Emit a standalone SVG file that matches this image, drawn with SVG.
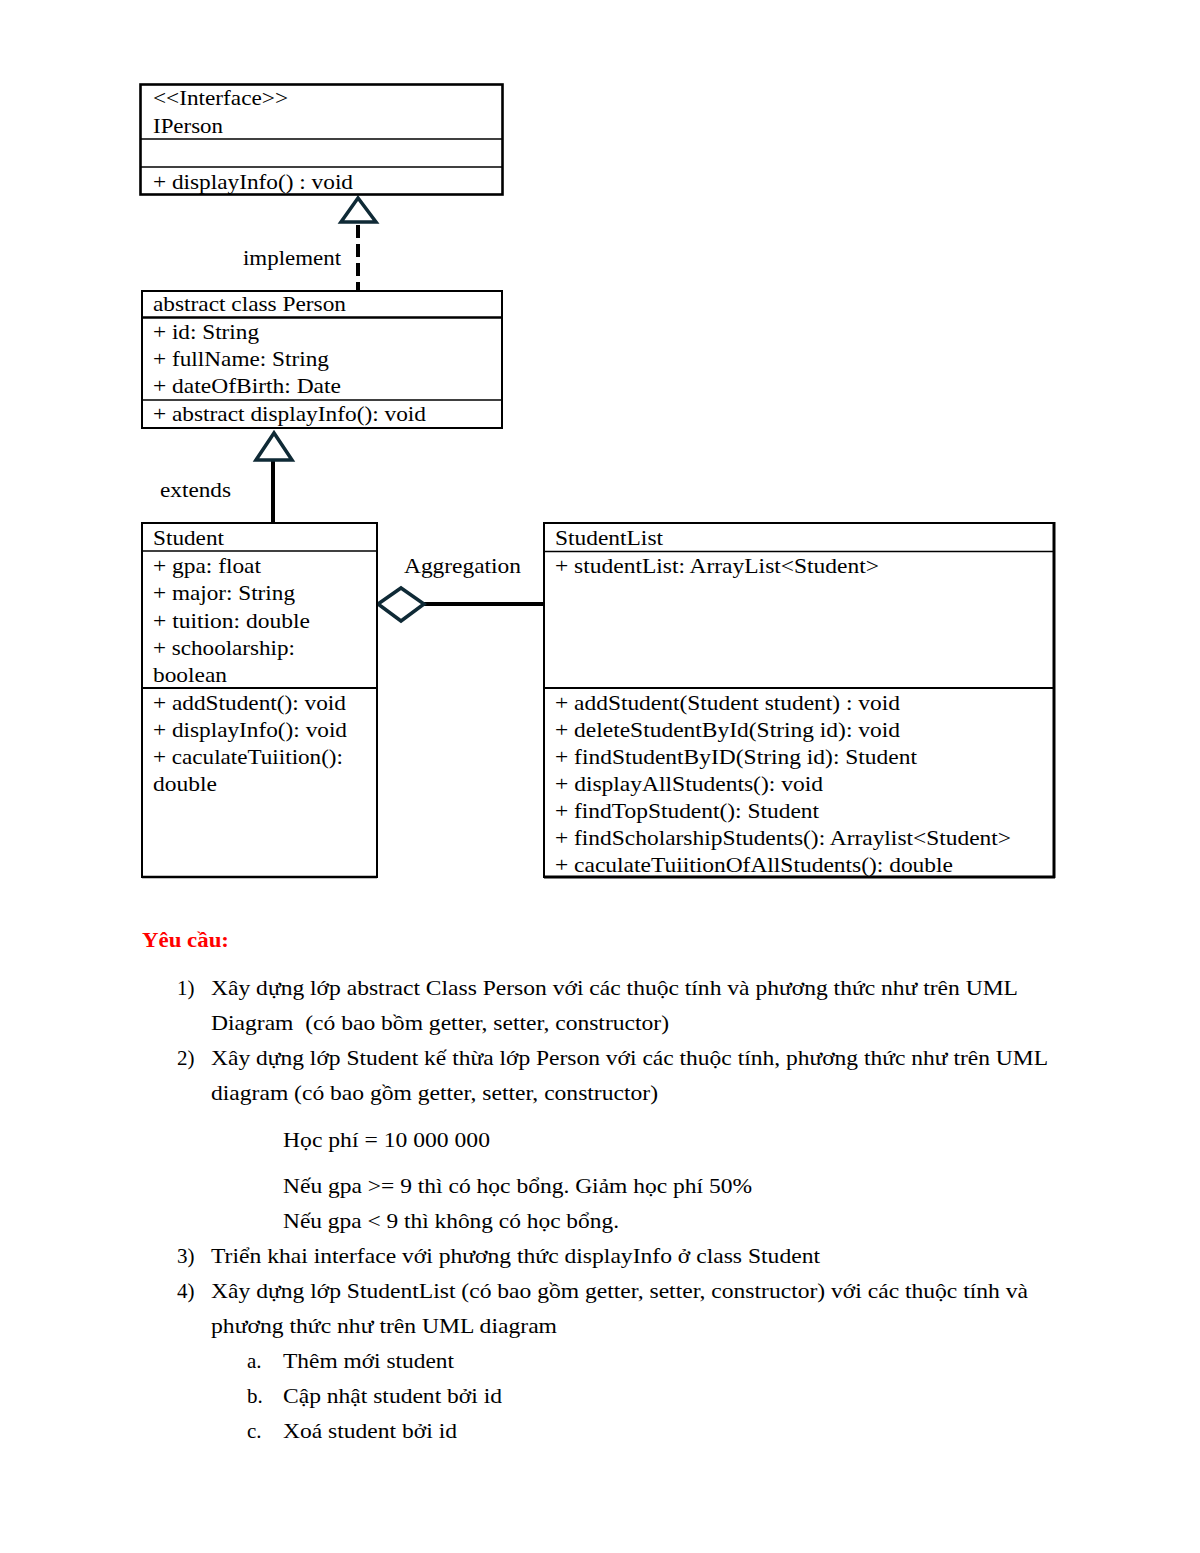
<svg xmlns="http://www.w3.org/2000/svg" width="1200" height="1553" viewBox="0 0 1200 1553">
<style>
.box{fill:#fff;stroke:#000;stroke-width:2}
.sep{stroke:#000;stroke-width:1.6}
.t{font-family:"Liberation Serif","Times New Roman",serif;font-size:22px;fill:#000}
.r{font-family:"Liberation Serif","Times New Roman",serif;font-size:21px;fill:#000}
.head{stroke:#0f2a36;stroke-width:3.5;fill:#fff;stroke-linejoin:miter}
.ln{stroke:#000;stroke-width:4;fill:none}
</style>
<rect width="1200" height="1553" fill="#fff"/>

<g id="connectors">
<line class="ln" x1="358" y1="225" x2="358" y2="290" stroke-dasharray="13 6"/>
<polygon class="head" points="358,198 341,222 376,222"/>
<line class="ln" x1="273" y1="460" x2="273" y2="523"/>
<polygon class="head" points="274,433 256,460 292,460"/>
<line class="ln" x1="423" y1="604" x2="544" y2="604"/>
<polygon class="head" points="378,604 401,588 424,604 401,621"/>
<text class="t" x="243" y="265" textLength="98" lengthAdjust="spacingAndGlyphs">implement</text>
<text class="t" x="160" y="497" textLength="71" lengthAdjust="spacingAndGlyphs">extends</text>
<text class="t" x="404" y="573" textLength="117" lengthAdjust="spacingAndGlyphs">Aggregation</text>
</g>

<g id="IPerson">
<rect class="box" x="140.5" y="84.5" width="362" height="110" style="stroke-width:2.6"/>
<line class="sep" x1="140" y1="139" x2="503" y2="139"/>
<line class="sep" x1="140" y1="167" x2="503" y2="167"/>
<text class="t" x="153" y="105" textLength="135" lengthAdjust="spacingAndGlyphs">&lt;&lt;Interface&gt;&gt;</text>
<text class="t" x="153" y="133" textLength="70" lengthAdjust="spacingAndGlyphs">IPerson</text>
<text class="t" x="153" y="189" textLength="200" lengthAdjust="spacingAndGlyphs">+ displayInfo() : void</text>
</g>

<g id="Person">
<rect class="box" x="142" y="291" width="360" height="137"/>
<line class="sep" x1="142" y1="317.5" x2="502" y2="317.5" style="stroke-width:2.6"/>
<line class="sep" x1="142" y1="400" x2="502" y2="400"/>
<text class="t" x="153" y="311" textLength="193" lengthAdjust="spacingAndGlyphs">abstract class Person</text>
<text class="t" x="153" y="339" textLength="106" lengthAdjust="spacingAndGlyphs">+ id: String</text>
<text class="t" x="153" y="366" textLength="176" lengthAdjust="spacingAndGlyphs">+ fullName: String</text>
<text class="t" x="153" y="393" textLength="188" lengthAdjust="spacingAndGlyphs">+ dateOfBirth: Date</text>
<text class="t" x="153" y="421" textLength="273" lengthAdjust="spacingAndGlyphs">+ abstract displayInfo(): void</text>
</g>

<g id="Student">
<rect class="box" x="142" y="523" width="235" height="354"/>
<line class="sep" x1="142" y1="877" x2="377" y2="877" style="stroke-width:2.6"/>
<line class="sep" x1="142" y1="551" x2="377" y2="551"/>
<line class="sep" x1="142" y1="688" x2="377" y2="688" style="stroke-width:2.2"/>
<text class="t" x="153" y="545" textLength="71" lengthAdjust="spacingAndGlyphs">Student</text>
<text class="t" x="153" y="573" textLength="108" lengthAdjust="spacingAndGlyphs">+ gpa: float</text>
<text class="t" x="153" y="600" textLength="142" lengthAdjust="spacingAndGlyphs">+ major: String</text>
<text class="t" x="153" y="628" textLength="157" lengthAdjust="spacingAndGlyphs">+ tuition: double</text>
<text class="t" x="153" y="655" textLength="142" lengthAdjust="spacingAndGlyphs">+ schoolarship:</text>
<text class="t" x="153" y="682" textLength="74" lengthAdjust="spacingAndGlyphs">boolean</text>
<text class="t" x="153" y="710" textLength="193" lengthAdjust="spacingAndGlyphs">+ addStudent(): void</text>
<text class="t" x="153" y="737" textLength="194" lengthAdjust="spacingAndGlyphs">+ displayInfo(): void</text>
<text class="t" x="153" y="764" textLength="190" lengthAdjust="spacingAndGlyphs">+ caculateTuiition():</text>
<text class="t" x="153" y="791" textLength="64" lengthAdjust="spacingAndGlyphs">double</text>
</g>

<g id="StudentList">
<rect class="box" x="544" y="523" width="510" height="354"/>
<line class="sep" x1="1054" y1="522" x2="1054" y2="878" style="stroke-width:3"/>
<line class="sep" x1="544" y1="877" x2="1055" y2="877" style="stroke-width:3"/>
<line class="sep" x1="544" y1="551.5" x2="1054" y2="551.5"/>
<line class="sep" x1="544" y1="688" x2="1054" y2="688" style="stroke-width:2.2"/>
<text class="t" x="555" y="545" textLength="108" lengthAdjust="spacingAndGlyphs">StudentList</text>
<text class="t" x="555" y="573" textLength="324" lengthAdjust="spacingAndGlyphs">+ studentList: ArrayList&lt;Student&gt;</text>
<text class="t" x="555" y="710" textLength="345" lengthAdjust="spacingAndGlyphs">+ addStudent(Student student) : void</text>
<text class="t" x="555" y="737" textLength="345" lengthAdjust="spacingAndGlyphs">+ deleteStudentById(String id): void</text>
<text class="t" x="555" y="764" textLength="362" lengthAdjust="spacingAndGlyphs">+ findStudentByID(String id): Student</text>
<text class="t" x="555" y="791" textLength="268" lengthAdjust="spacingAndGlyphs">+ displayAllStudents(): void</text>
<text class="t" x="555" y="818" textLength="264" lengthAdjust="spacingAndGlyphs">+ findTopStudent(): Student</text>
<text class="t" x="555" y="845" textLength="456" lengthAdjust="spacingAndGlyphs">+ findScholarshipStudents(): Arraylist&lt;Student&gt;</text>
<text class="t" x="555" y="872" textLength="398" lengthAdjust="spacingAndGlyphs">+ caculateTuiitionOfAllStudents(): double</text>
</g>

<g id="requirements">
<text class="r" x="142" y="947" style="fill:#ff0000;font-weight:bold" textLength="87" lengthAdjust="spacingAndGlyphs">Yêu cầu:</text>
<text class="r" x="177" y="995">1)</text>
<text class="r" x="211" y="995" textLength="807" lengthAdjust="spacingAndGlyphs">Xây dựng lớp abstract Class Person với các thuộc tính và phương thức như trên UML</text>
<text class="r" x="211" y="1030" textLength="458" lengthAdjust="spacingAndGlyphs" xml:space="preserve">Diagram  (có bao bồm getter, setter, constructor)</text>
<text class="r" x="177" y="1065">2)</text>
<text class="r" x="211" y="1065" textLength="837" lengthAdjust="spacingAndGlyphs">Xây dựng lớp Student kế thừa lớp Person với các thuộc tính, phương thức như trên UML</text>
<text class="r" x="211" y="1100" textLength="447" lengthAdjust="spacingAndGlyphs">diagram (có bao gồm getter, setter, constructor)</text>
<text class="r" x="283" y="1147" textLength="207" lengthAdjust="spacingAndGlyphs">Học phí = 10 000 000</text>
<text class="r" x="283" y="1193" textLength="469" lengthAdjust="spacingAndGlyphs">Nếu gpa &gt;= 9 thì có học bổng. Giảm học phí 50%</text>
<text class="r" x="283" y="1228" textLength="336" lengthAdjust="spacingAndGlyphs">Nếu gpa &lt; 9 thì không có học bổng.</text>
<text class="r" x="177" y="1263">3)</text>
<text class="r" x="211" y="1263" textLength="609" lengthAdjust="spacingAndGlyphs">Triển khai interface với phương thức displayInfo ở class Student</text>
<text class="r" x="177" y="1298">4)</text>
<text class="r" x="211" y="1298" textLength="817" lengthAdjust="spacingAndGlyphs">Xây dựng lớp StudentList (có bao gồm getter, setter, constructor) với các thuộc tính và</text>
<text class="r" x="211" y="1333" textLength="346" lengthAdjust="spacingAndGlyphs">phương thức như trên UML diagram</text>
<text class="r" x="247" y="1368">a.</text>
<text class="r" x="283" y="1368" textLength="171" lengthAdjust="spacingAndGlyphs">Thêm mới student</text>
<text class="r" x="247" y="1403">b.</text>
<text class="r" x="283" y="1403" textLength="219" lengthAdjust="spacingAndGlyphs">Cập nhật student bởi id</text>
<text class="r" x="247" y="1438">c.</text>
<text class="r" x="283" y="1438" textLength="174" lengthAdjust="spacingAndGlyphs">Xoá student bởi id</text>
</g>
</svg>
